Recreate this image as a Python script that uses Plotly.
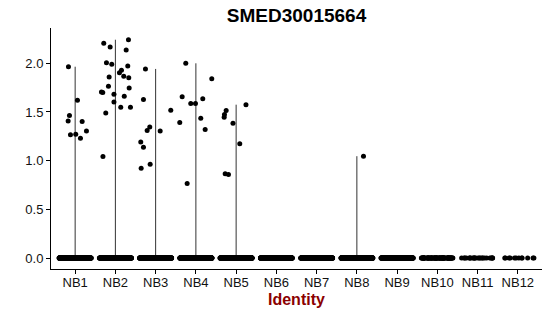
import numpy as np
import plotly.graph_objects as go

categories = ["NB1", "NB2", "NB3", "NB4", "NB5", "NB6", "NB7", "NB8", "NB9", "NB10", "NB11", "NB12"]

# non-zero expression values per identity
nb1_vals = [1.965, 1.463, 1.408, 1.62, 1.265, 1.272, 1.401, 1.231, 1.306]
nb2_vals = [2.205, 2.167, 2.242, 2.136, 2.006, 1.99, 1.972, 1.929, 1.903, 1.866, 1.852, 1.859,
            1.764, 1.747, 1.706, 1.699, 1.682, 1.662, 1.603, 1.549, 1.549, 1.49, 1.042]
nb3_vals = [1.942, 1.627, 1.347, 1.309, 1.306, 1.193, 1.138, 0.923, 0.964]
nb4_vals = [1.518, 1.391, 1.657, 2.0, 1.586, 1.586, 1.637, 1.436, 1.319, 1.842, 0.765]
nb5_vals = [1.575, 1.514, 1.475, 1.445, 1.385, 1.175, 0.865, 0.858]
nb8_vals = [1.046]

nonzero = {"NB1": nb1_vals, "NB2": nb2_vals, "NB3": nb3_vals, "NB4": nb4_vals,
           "NB5": nb5_vals, "NB8": nb8_vals}

# number of cells with zero expression per identity (estimated)
zero_counts = [320, 320, 320, 320, 320, 300, 300, 300, 220, 80, 24, 12]

# horizontal jitter (pixels from category centre)
nb1_jit = [69, 70, 68.7, 78, 71, 76.3, 82.7, 81, 87]
nb2_jit = [104.3, 110.7, 129, 126.7, 107, 112.3, 128.3, 122, 120, 124.3, 129.3, 109.7,
           109, 129.7, 102, 103.3, 114.5, 124.8, 114.5, 121.3, 131, 106.3, 103.5]
nb3_jit = [146, 144, 150.3, 147.7, 160.7, 141.3, 144, 141.7, 150.7]
nb4_jit = [171.3, 180.3, 182.7, 186.3, 191.3, 196, 203.3, 201.3, 205.7, 212.3, 187.7]
nb5_jit = [246.5, 226.7, 225, 224.7, 233.5, 240.3, 225.7, 229]
nb8_jit = [364]
jit_px = {"NB1": nb1_jit, "NB2": nb2_jit, "NB3": nb3_jit, "NB4": nb4_jit,
          "NB5": nb5_jit, "NB8": nb8_jit}
PX0, STEP = 75.7, 40.24

rng = np.random.default_rng(7)

fig = go.Figure()

xs, ys = [], []
for i, cat in enumerate(categories):
    vals = nonzero.get(cat, [])
    vmax = max(vals) if vals else 0.0
    # collapsed violin: thin vertical line from 0 to max
    if vmax > 0:
        fig.add_trace(go.Scatter(x=[i, i], y=[0, vmax], mode="lines",
                                 line=dict(color="#333333", width=1),
                                 hoverinfo="skip", showlegend=False))
    n0 = zero_counts[i]
    xs.extend(list(i + rng.uniform(-0.4, 0.4, n0)))
    ys.extend([0.0] * n0)
    if vals:
        offs = [(p - (PX0 + i * STEP)) / STEP for p in jit_px[cat]]
        xs.extend([i + o for o in offs])
        ys.extend(vals)

fig.add_trace(go.Scatter(x=xs, y=ys, mode="markers",
                         marker=dict(color="black", size=5, line=dict(width=0)),
                         showlegend=False, hoverinfo="skip"))

axis_font = dict(family="Liberation Sans, Arial, sans-serif", size=13, color="#111111")

fig.update_layout(
    width=550, height=316,
    margin=dict(l=51, r=8, t=28, b=47),
    plot_bgcolor="white", paper_bgcolor="white",
    title=dict(text="<b>SMED30015664</b>", x=0.5, xref="paper", xanchor="center",
               y=1 - 15 / 316, yref="container", yanchor="middle",
               font=dict(family="Liberation Sans, Arial, sans-serif", size=19, color="black")),
    xaxis=dict(range=[-0.6, 11.6], tickmode="array", tickvals=list(range(len(categories))),
               ticktext=categories, showgrid=False, zeroline=False,
               showline=True, linecolor="black", linewidth=1,
               ticks="outside", ticklen=4, tickcolor="black", tickwidth=1,
               tickfont=axis_font, ticklabelstandoff=-3),
    yaxis=dict(range=[-0.1125, 2.3625], tickmode="array",
               tickvals=[0, 0.5, 1.0, 1.5, 2.0], ticktext=["0.0", "0.5", "1.0", "1.5", "2.0"],
               showgrid=False, zeroline=False,
               showline=True, linecolor="black", linewidth=1,
               ticks="outside", ticklen=4, tickcolor="black", tickwidth=1,
               tickfont=axis_font),
    annotations=[dict(text="<b>Identity</b>", x=0.5, xref="paper", y=-30 / 241, yref="paper",
                      xanchor="center", yanchor="middle", showarrow=False,
                      font=dict(family="Liberation Sans, Arial, sans-serif", size=16, color="#8B0000"))],
)

fig.write_html("out.html")
